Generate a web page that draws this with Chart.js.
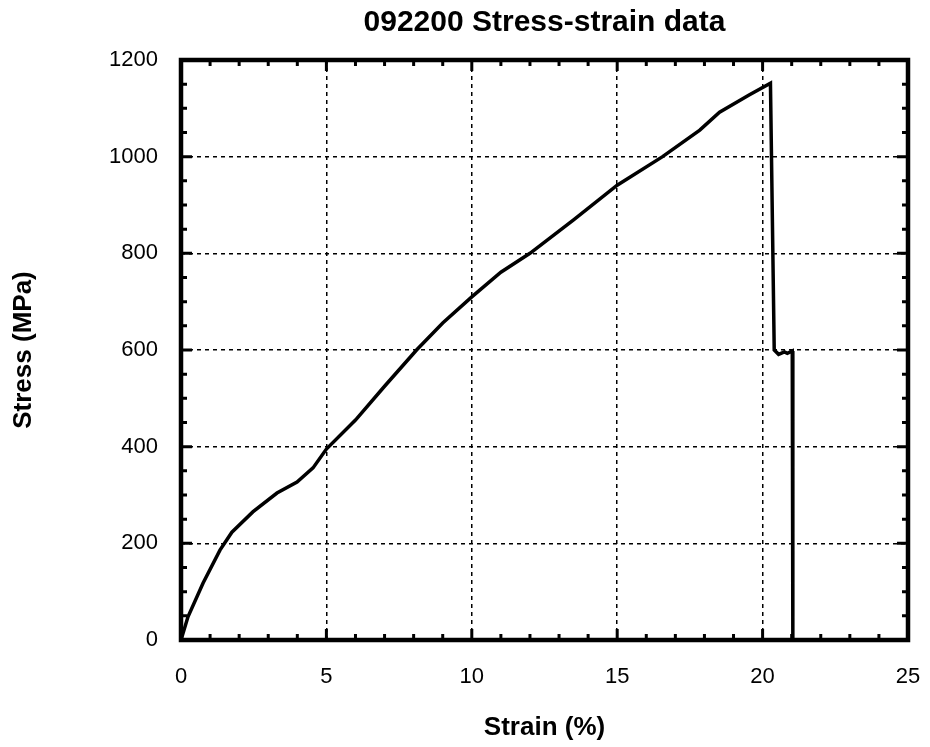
<!DOCTYPE html>
<html>
<head>
<meta charset="utf-8">
<script src="https://cdn.jsdelivr.net/npm/chart.js@4/dist/chart.umd.min.js"></script>
<style>
  html, body { margin: 0; padding: 0; background: #fff; }
  #wrap { width: 930px; height: 747px; }
</style>
</head>
<body>
<div id="wrap"><canvas id="ssChart" width="930" height="747"></canvas></div>
<script>
// strain (%) and stress (MPa)
const strain = [0, 0.24, 0.76, 1.34, 1.75, 2.47, 3.3, 3.99, 4.54, 5.0, 6.0, 7.0, 8.1, 9.0,
  10.0, 11.0, 12.0, 13.5, 15.0, 16.56, 17.84, 18.52, 19.55, 20.27,
  20.40, 20.55, 20.75, 20.85, 21.02, 21.04];
const stress = [0, 48, 118, 186, 223, 265, 304, 327, 356, 395, 455, 525, 600, 656,
  710, 761, 800, 869, 941, 1000, 1055, 1092, 1128, 1152,
  600, 591, 596, 593, 598, 0];

const xTicks = [0, 5, 10, 15, 20, 25];
const yTicks = [0, 200, 400, 600, 800, 1000, 1200];

const points = strain.map((s, i) => ({ x: s, y: stress[i] }));

const FONT = "'Liberation Sans', Arial, Helvetica, sans-serif";

// hide the grid line that would sit on the frame
const gridColor = (lo, hi) => ctx =>
  (ctx.tick && (ctx.tick.value === lo || ctx.tick.value === hi)) ? 'rgba(0,0,0,0)' : '#000';

// thick frame plus inward minor/major ticks, like the old plotting package did
const framePlugin = {
  id: 'frame',
  afterDraw(chart) {
    const { ctx, chartArea: a, scales: { x, y } } = chart;
    ctx.save();
    ctx.strokeStyle = '#000';
    ctx.lineWidth = 3;
    // x ticks every 1 %, longer every 5
    for (let v = 0; v <= 25; v++) {
      const px = x.getPixelForValue(v);
      const len = v % 5 === 0 ? 11 : 6;
      ctx.beginPath();
      ctx.moveTo(px, a.bottom); ctx.lineTo(px, a.bottom - len);
      ctx.moveTo(px, a.top); ctx.lineTo(px, a.top + len);
      ctx.stroke();
    }
    // y ticks every 50 MPa, longer every 200
    for (let v = 0; v <= 1200; v += 50) {
      const py = y.getPixelForValue(v);
      const len = v % 200 === 0 ? 11 : 6;
      ctx.beginPath();
      ctx.moveTo(a.left, py); ctx.lineTo(a.left + len, py);
      ctx.moveTo(a.right, py); ctx.lineTo(a.right - len, py);
      ctx.stroke();
    }
    ctx.lineWidth = 4.5;
    ctx.strokeRect(a.left, a.top, a.right - a.left, a.bottom - a.top);
    ctx.restore();
  }
};

new Chart(document.getElementById('ssChart'), {
  type: 'scatter',
  data: {
    datasets: [{
      data: points,
      showLine: true,
      borderColor: '#000',
      borderWidth: 3.5,
      pointRadius: 0,
      fill: false,
      tension: 0
    }]
  },
  options: {
    responsive: false,
    animation: false,
    layout: { padding: { left: 0, right: 22, top: 0, bottom: 0 } },
    plugins: {
      legend: { display: false },
      tooltip: { enabled: false },
      title: { display: false }
    },
    scales: {
      // empty top axis only used to carry the title centred over the plot
      top: {
        type: 'linear',
        axis: 'x',
        position: 'top',
        min: 0, max: 25,
        afterFit: s => { s.height = 60; s.paddingLeft = 0; s.paddingRight = 0; },
        grid: { display: false, drawTicks: false },
        border: { display: false },
        ticks: { display: false },
        title: {
          display: true,
          text: '092200 Stress-strain data',
          color: '#000',
          font: { family: FONT, size: 30, weight: 'bold' },
          padding: { top: 5, bottom: 0 }
        }
      },
      x: {
        type: 'linear',
        position: 'bottom',
        min: 0, max: 25,
        afterBuildTicks: s => { s.ticks = xTicks.map(v => ({ value: v })); },
        afterFit: s => { s.height = 107; s.paddingLeft = 0; s.paddingRight = 0; },
        grid: { color: gridColor(0, 25), lineWidth: 1.5, drawTicks: false },
        border: { display: false, dash: [4, 4] },
        ticks: { color: '#000', padding: 24, font: { family: FONT, size: 22 }, maxRotation: 0 },
        title: {
          display: true,
          text: 'Strain (%)',
          color: '#000',
          font: { family: FONT, size: 26, weight: 'bold' },
          padding: { top: 0, bottom: 4 }
        }
      },
      y: {
        type: 'linear',
        min: 0, max: 1200,
        afterBuildTicks: s => { s.ticks = yTicks.map(v => ({ value: v })); },
        afterFit: s => { s.width = 181; s.paddingTop = 0; s.paddingBottom = 0; },
        grid: { color: gridColor(0, 1200), lineWidth: 1.5, drawTicks: false },
        border: { display: false, dash: [4, 4] },
        ticks: {
          color: '#000', padding: 23, font: { family: FONT, size: 22 },
          callback: v => String(v)
        },
        title: {
          display: true,
          text: 'Stress (MPa)',
          color: '#000',
          font: { family: FONT, size: 26, weight: 'bold' },
          padding: { top: 8, bottom: 0 }
        }
      }
    }
  },
  plugins: [framePlugin]
});
</script>
</body>
</html>
